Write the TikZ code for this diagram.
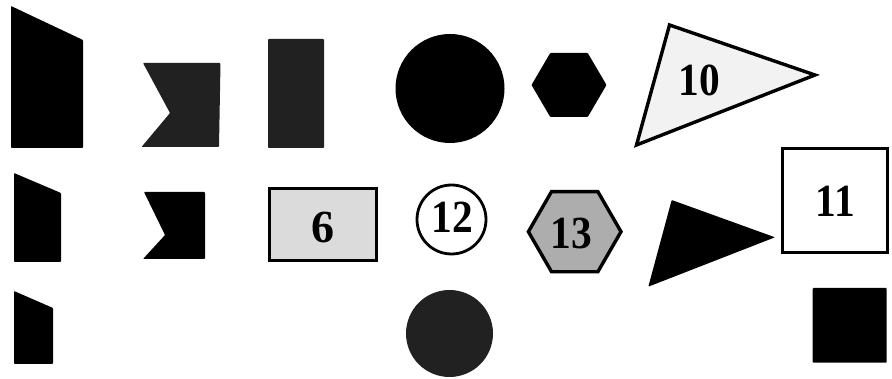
\documentclass[tikz,border=0pt]{standalone}
\usepackage{fontspec}
\setmainfont{Liberation Serif}
\begin{document}
\begin{tikzpicture}[x=1pt,y=-1pt,
  solid/.style={fill=black, rounded corners=0.8pt},
  speck/.style={fill=black!87, rounded corners=0.8pt},
  outl/.style={draw=black, line width=3.4pt, line join=miter},
  lab/.style={font=\bfseries\fontsize{46}{46}\selectfont, inner sep=0pt}]
\useasboundingbox (0,0) rectangle (892,379);
% row 1
\path[solid] (11,6) -- (83,40) -- (83,148) -- (11,148) -- cycle;
\path[speck] (143,63) -- (220.5,63) -- (219,147) -- (141.5,147) -- (170,113) -- cycle;
\path[speck] (268,39) rectangle (324,148);
\fill[black] (450,88.5) circle (54.5);
\path[solid, shift={(569,85)}] (37.5,0) -- (18.75,32) -- (-18.75,32) -- (-37.5,0) -- (-18.75,-32) -- (18.75,-32) -- cycle;
\draw[outl, fill=black!5] (669.5,25) -- (815,75) -- (636.5,145) -- cycle;
\node[lab] (n10) at (699.5,80) {\scalebox{0.9}[1]{10}};
% row 2
\path[solid] (14,173) -- (61,193) -- (61,262) -- (14,262) -- cycle;
\path[solid] (144,192) -- (205,192) -- (205,259) -- (143,259) -- (165,235) -- cycle;
\draw[outl, fill=black!14] (269.5,188.5) rectangle (376.5,260.5);
\node[lab] (n6) at (323,227.5) {6};
\draw[draw=black, line width=2.8pt, fill=white] (451.5,219.5) circle (34.5);
\node[lab] (n12) at (452.5,217) {\scalebox{0.9}[1]{12}};
\draw[outl, fill=black!32, shift={(574.7,231.7)}] (46.3,0) -- (23.15,40.1) -- (-23.15,40.1) -- (-46.3,0) -- (-23.15,-40.1) -- (23.15,-40.1) -- cycle;
\node[lab] (n13) at (571,233.5) {\scalebox{0.9}[1]{13}};
\path[solid] (671.7,200) -- (775,237.3) -- (648.3,286.7) -- cycle;
\draw[outl, fill=white] (782.4,148.4) rectangle (887.6,252.6);
\node[lab] (n11) at (835.5,201.5) {\scalebox{0.9}[1]{11}};
% row 3
\path[solid] (14,291) -- (53,308) -- (53,364) -- (14,364) -- cycle;
\fill[black!87] (449.5,333.5) circle (43.5);
\path[solid] (812.7,288) rectangle (886.7,362.7);
\end{tikzpicture}
\end{document}
